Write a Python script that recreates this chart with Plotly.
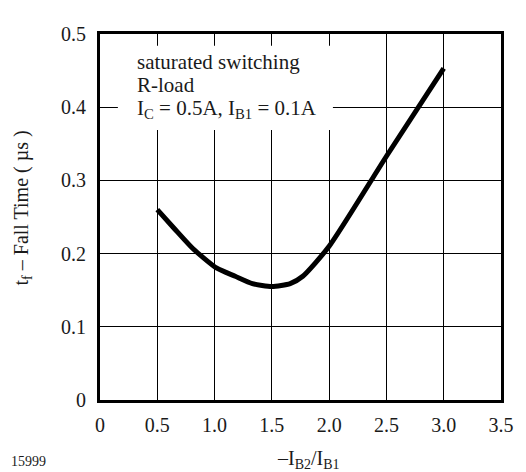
import plotly.graph_objects as go

# data
ratio = [0.5, 0.65, 0.81, 1.02, 1.18, 1.33, 1.5, 1.66, 1.77, 2.0, 2.5, 3.0]
fall_time = [0.260, 0.234, 0.207, 0.180, 0.169, 0.159, 0.155, 0.159, 0.169, 0.210, 0.333, 0.453]

x_ticks = [0, 0.5, 1.0, 1.5, 2.0, 2.5, 3.0, 3.5]
x_tick_text = ["0", "0.5", "1.0", "1.5", "2.0", "2.5", "3.0", "3.5"]
y_ticks = [0, 0.1, 0.2, 0.3, 0.4, 0.5]
y_tick_text = ["0", "0.1", "0.2", "0.3", "0.4", "0.5"]

condition_lines = ["saturated switching", "R-load",
                   "I<sub>C</sub> = 0.5A, I<sub>B1</sub> = 0.1A"]
condition_y = [0.462, 0.430, 0.398]

FONT = "Liberation Serif"
TXT = "#1a1a1a"

fig = go.Figure()
fig.add_trace(go.Scatter(x=ratio, y=fall_time, mode="lines",
                         line=dict(color="black", width=5, shape="spline", smoothing=0.6),
                         showlegend=False, hoverinfo="skip"))

fig.update_layout(
    width=518, height=464,
    margin=dict(l=92, r=23, t=26, b=72),
    paper_bgcolor="white", plot_bgcolor="white",
    font=dict(family=FONT, size=20, color=TXT),
    xaxis=dict(range=[0, 3.5], tickvals=x_ticks, ticktext=x_tick_text,
               showgrid=True, gridcolor="black", gridwidth=1,
               showline=True, linecolor="black", linewidth=3, mirror=True,
               ticks="", zeroline=False, ticklabelstandoff=5,
               tickfont=dict(family=FONT, size=20, color=TXT)),
    yaxis=dict(range=[0, 0.5], tickvals=y_ticks, ticktext=y_tick_text,
               showgrid=True, gridcolor="black", gridwidth=1,
               showline=True, linecolor="black", linewidth=3, mirror=True,
               ticks="", zeroline=False, ticklabelstandoff=7,
               tickfont=dict(family=FONT, size=20, color=TXT)),
)

# white box behind the condition text (interrupts grid lines)
fig.add_shape(type="rect", xref="x", yref="y",
              x0=0.156, x1=2.033, y0=0.369, y1=0.484,
              fillcolor="white", line=dict(width=0), layer="above")

for line_text, ly in zip(condition_lines, condition_y):
    fig.add_annotation(xref="x", yref="y", x=0.304, y=ly, xanchor="left", yanchor="middle",
                       align="left", showarrow=False, text=line_text,
                       font=dict(family=FONT, size=21, color=TXT))

fig.add_annotation(xref="paper", yref="paper", x=-0.193, y=0.525, textangle=-90,
                   showarrow=False, xanchor="center", yanchor="middle",
                   text="t<sub>f</sub> \u2013 Fall Time ( \u00b5s )",
                   font=dict(family=FONT, size=20, color=TXT))

fig.add_annotation(xref="paper", yref="paper", x=0.521, y=-0.163,
                   showarrow=False, xanchor="center", yanchor="middle",
                   text="\u2013I<sub>B2</sub>/I<sub>B1</sub>",
                   font=dict(family=FONT, size=20, color=TXT))

fig.add_annotation(xref="paper", yref="paper", x=-0.179, y=-0.169,
                   showarrow=False, xanchor="center", yanchor="middle",
                   text="15999",
                   font=dict(family=FONT, size=14, color=TXT))

fig.write_html("out.html")
